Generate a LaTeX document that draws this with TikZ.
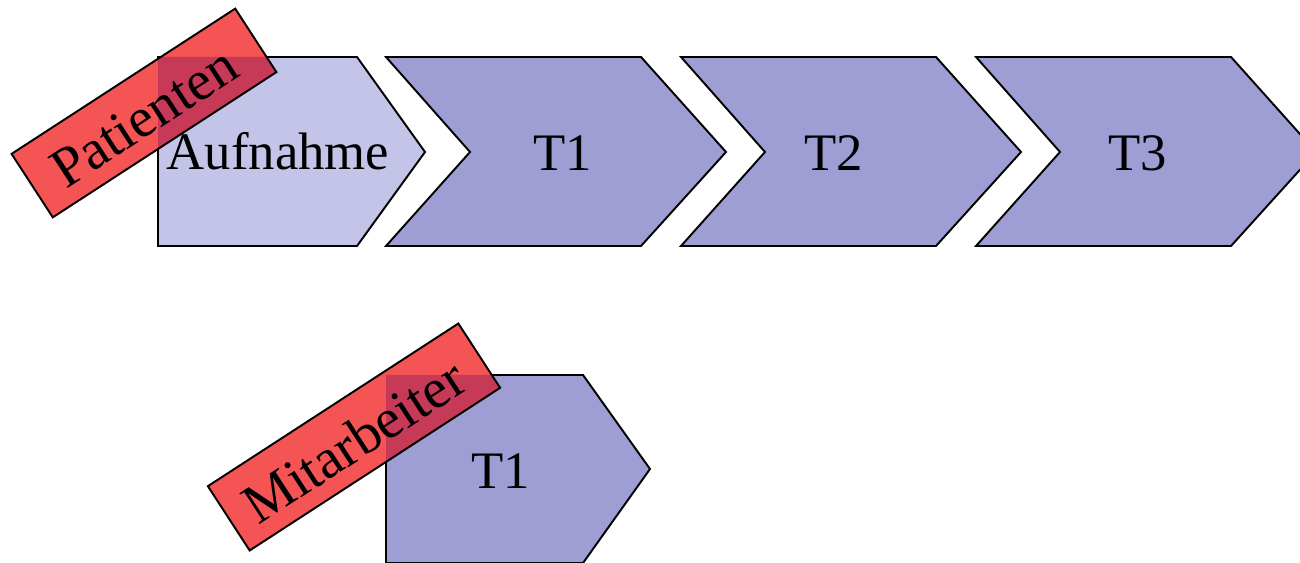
\documentclass[tikz,border=0pt]{standalone}
\usepackage{fontspec}
\setmainfont{Liberation Serif}
\begin{document}
\begin{tikzpicture}[x=0.02cm,y=-0.02cm,line join=miter]
\definecolor{bluelight}{RGB}{196,196,232}
\definecolor{bluefill}{RGB}{158,158,212}
\definecolor{redfill}{RGB}{244,84,84}
\definecolor{overlapfill}{RGB}{198,58,88}
\tikzset{
  stage/.style={draw=black,line width=1.1pt,fill=bluefill},
  lbl/.style={font=\fontsize{30}{36}\selectfont,anchor=base,inner sep=0pt},
  tagbox/.style={rotate=33,fill=redfill,inner sep=0pt},
  taglbl/.style={rotate=33,font=\fontsize{32}{38}\selectfont,inner sep=0pt},
  tagline/.style={draw=black,line width=1.1pt}
}
\def\aufpath{(158,57) -- (357,57) -- (425,152) -- (357,246) -- (158,246) -- cycle}
\def\tbpath{(386,375) -- (583,375) -- (650,469) -- (583,563) -- (386,563) -- cycle}
\useasboundingbox (0,0) rectangle (1300,563);
\begin{scope}
\clip (0,0) rectangle (1300,563);
% top row
\path[stage,fill=bluelight] \aufpath;
\path[stage] (386,57) -- (641,57) -- (726,152) -- (641,246) -- (386,246) -- (470,152) -- cycle;
\path[stage] (681,57) -- (936,57) -- (1021,152) -- (936,246) -- (681,246) -- (765,152) -- cycle;
\path[stage] (976,57) -- (1231,57) -- (1316,152) -- (1231,246) -- (976,246) -- (1060,152) -- cycle;
\node[lbl] (aufnahme) at (278,170) {Aufnahme};
\node[lbl] (t1) at (563,171) {T1};
\node[lbl] (t2) at (834,171) {T2};
\node[lbl] (t3) at (1138,171) {T3};
% bottom
\path[stage] \tbpath;
\node[lbl] (t1b) at (501,488) {T1};
% Patienten tag
\node[tagbox,minimum width=5.32cm,minimum height=1.5cm] (patbox) at (144,113) {};
\begin{scope}
\clip (patbox.north west) -- (patbox.north east) -- (patbox.south east) -- (patbox.south west) -- cycle;
\fill[overlapfill] \aufpath;
\end{scope}
\path[tagline] (patbox.north west) -- (patbox.north east) -- (patbox.south east) -- (patbox.south west) -- cycle;
\node[taglbl] (pat) at (144,117) {Patienten};
% Mitarbeiter tag
\node[tagbox,minimum width=5.96cm,minimum height=1.52cm] (mitbox) at (354,437) {};
\begin{scope}
\clip (mitbox.north west) -- (mitbox.north east) -- (mitbox.south east) -- (mitbox.south west) -- cycle;
\fill[overlapfill] \tbpath;
\end{scope}
\path[tagline] (mitbox.north west) -- (mitbox.north east) -- (mitbox.south east) -- (mitbox.south west) -- cycle;
\node[taglbl] (mit) at (354,441) {Mitarbeiter};
\end{scope}
\end{tikzpicture}
\end{document}
